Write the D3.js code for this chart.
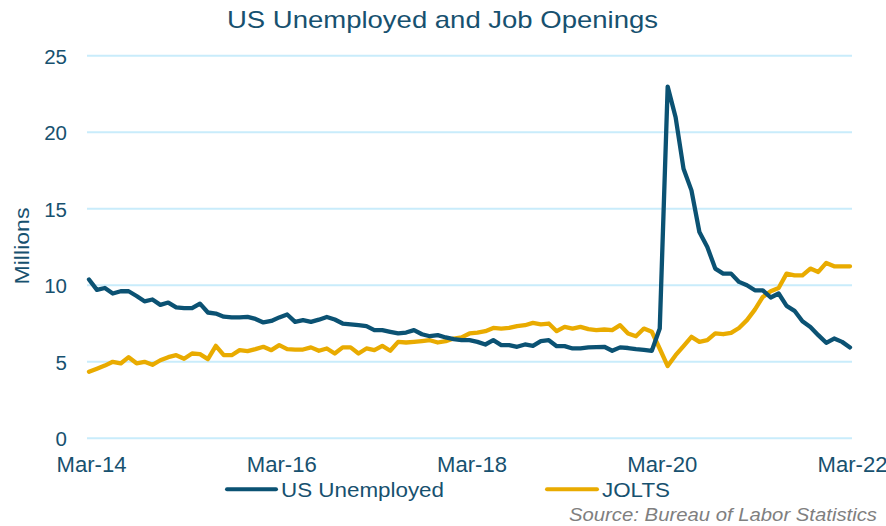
<!DOCTYPE html>
<html>
<head>
<meta charset="utf-8">
<script src="https://cdn.jsdelivr.net/npm/d3@7"></script>
<style>
  html, body { margin: 0; padding: 0; background: #fff; }
  svg { display: block; font-family: "Liberation Sans", Arial, sans-serif; }
</style>
</head>
<body>
<svg id="chart" width="886" height="526"></svg>
<script>
// Monthly, Mar-2014 .. Mar-2022 (97 months), millions
const months = d3.range(0, 97); // month index from Mar-14
const unemployed = [
  10.38, 9.70, 9.82, 9.46, 9.61, 9.61, 9.30, 8.95, 9.07, 8.72,
  8.87, 8.55, 8.50, 8.50, 8.80, 8.22, 8.15, 7.95, 7.90, 7.90,
  7.93, 7.80, 7.57, 7.67, 7.90, 8.09, 7.61, 7.72, 7.61, 7.75,
  7.93, 7.76, 7.50, 7.45, 7.39, 7.33, 7.07, 7.07, 6.96, 6.85,
  6.91, 7.07, 6.80, 6.67, 6.74, 6.59, 6.48, 6.41, 6.41, 6.30,
  6.13, 6.41, 6.09, 6.09, 5.98, 6.13, 6.04, 6.35, 6.41, 6.02,
  6.02, 5.87, 5.87, 5.94, 5.96, 5.98, 5.72, 5.94, 5.90, 5.82,
  5.78, 5.72, 7.17, 22.98, 20.98, 17.61, 16.20, 13.48, 12.50, 11.09,
  10.76, 10.76, 10.22, 10.00, 9.67, 9.67, 9.20, 9.46, 8.65, 8.33,
  7.65, 7.28, 6.74, 6.24, 6.52, 6.30, 5.94
];
const jolts = [
  4.35, 4.55, 4.75, 5.00, 4.89, 5.30, 4.90, 5.00, 4.80, 5.10,
  5.30, 5.43, 5.20, 5.54, 5.50, 5.17, 6.04, 5.43, 5.43, 5.76,
  5.70, 5.83, 5.98, 5.76, 6.09, 5.83, 5.80, 5.80, 5.94, 5.72,
  5.87, 5.54, 5.94, 5.94, 5.54, 5.87, 5.76, 6.04, 5.72, 6.30,
  6.26, 6.30, 6.35, 6.41, 6.26, 6.35, 6.52, 6.59, 6.85, 6.91,
  7.00, 7.21, 7.17, 7.21, 7.33, 7.39, 7.54, 7.45, 7.50, 7.00,
  7.28, 7.17, 7.28, 7.13, 7.07, 7.11, 7.07, 7.39, 6.85, 6.67,
  7.17, 6.96, 5.85, 4.72, 5.43, 6.02, 6.63, 6.30, 6.41, 6.85,
  6.80, 6.89, 7.21, 7.72, 8.41, 9.24, 9.61, 9.82, 10.76, 10.65,
  10.65, 11.09, 10.87, 11.46, 11.24, 11.24, 11.24
];
const xTickMonths = [0, 24, 48, 72, 96];
const xTickLabels = ["Mar-14", "Mar-16", "Mar-18", "Mar-20", "Mar-22"];
const yTicks = [0, 5, 10, 15, 20, 25];
const seriesNames = ["US Unemployed", "JOLTS"];
const seriesColors = ["#0b5273", "#e9ab00"];
const titleText = "US Unemployed and Job Openings";
const yLabel = "Millions";
const sourceText = "Source: Bureau of Labor Statistics";

const textColor = "#17516f";
const svg = d3.select("#chart");

const x = d3.scaleLinear().domain([0, 96]).range([89, 850]);
const y = d3.scaleLinear().domain([0, 25]).range([438.3, 55.7]);

// gridlines
svg.append("g").selectAll("line").data(yTicks).join("line")
  .attr("x1", 87).attr("x2", 852)
  .attr("y1", d => y(d)).attr("y2", d => y(d))
  .attr("stroke", "#c9ecfb").attr("stroke-width", 2);

// y axis labels
const yAxis = d3.axisLeft(y).tickValues(yTicks).tickSize(0).tickPadding(0);
const gy = svg.append("g").attr("transform", "translate(67,0)").call(yAxis);
gy.select(".domain").remove();
gy.selectAll("text").attr("fill", textColor).attr("font-size", 20.5)
  .attr("font-family", "Liberation Sans, Arial, sans-serif").attr("dy", "0.36em");

// x axis labels
const xAxis = d3.axisBottom(x).tickValues(xTickMonths)
  .tickFormat((d, i) => xTickLabels[i]).tickSize(0).tickPadding(0);
const gx = svg.append("g").attr("transform", "translate(2,456)").call(xAxis);
gx.select(".domain").remove();
gx.selectAll("text").attr("fill", textColor).attr("font-size", 21.5)
  .attr("font-family", "Liberation Sans, Arial, sans-serif").attr("dy", "0.75em")
  .attr("textLength", 70).attr("lengthAdjust", "spacingAndGlyphs");

// lines
const line = d3.line().x((d, i) => x(months[i])).y(d => y(d));
svg.append("path").datum(jolts).attr("d", line)
  .attr("fill", "none").attr("stroke", seriesColors[1]).attr("stroke-width", 4.3)
  .attr("stroke-linejoin", "round").attr("stroke-linecap", "round");
svg.append("path").datum(unemployed).attr("d", line)
  .attr("fill", "none").attr("stroke", seriesColors[0]).attr("stroke-width", 4.3)
  .attr("stroke-linejoin", "round").attr("stroke-linecap", "round");

// title
svg.append("text").attr("x", 442.5).attr("y", 28).attr("text-anchor", "middle")
  .attr("font-size", 24).attr("fill", textColor)
  .attr("textLength", 431).attr("lengthAdjust", "spacingAndGlyphs")
  .text(titleText);

// y label
svg.append("text").attr("transform", "translate(29,246) rotate(-90)")
  .attr("text-anchor", "middle").attr("font-size", 21).attr("fill", textColor)
  .attr("textLength", 77).attr("lengthAdjust", "spacingAndGlyphs")
  .text(yLabel);

// legend
const legendX = [227, 547];
const legendW = [49, 50];
const legendTextW = [163, 68];
const lg = svg.append("g");
seriesNames.forEach((name, i) => {
  lg.append("line").attr("x1", legendX[i]).attr("x2", legendX[i] + legendW[i])
    .attr("y1", 489.3).attr("y2", 489.3)
    .attr("stroke", seriesColors[i]).attr("stroke-width", 4).attr("stroke-linecap", "round");
  lg.append("text").attr("x", legendX[i] + legendW[i] + 5).attr("y", 497)
    .attr("font-size", 21).attr("fill", textColor)
    .attr("textLength", legendTextW[i]).attr("lengthAdjust", "spacingAndGlyphs")
    .text(name);
});

// source
svg.append("text").attr("x", 877).attr("y", 521).attr("text-anchor", "end")
  .attr("font-size", 18.5).attr("font-style", "italic").attr("fill", "#7f7f7f")
  .attr("textLength", 308).attr("lengthAdjust", "spacingAndGlyphs")
  .text(sourceText);
</script>
</body>
</html>
